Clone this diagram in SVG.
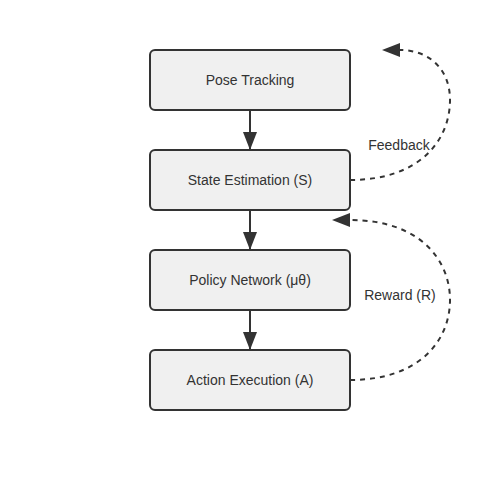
<svg xmlns="http://www.w3.org/2000/svg" width="500" height="500" viewBox="0 0 500 500">
<style>
.node rect{fill:#f0f0f0;stroke:#333;stroke-width:2}
text{font-family:"Liberation Sans",Arial,sans-serif;font-size:14px;fill:#333;text-anchor:middle;dominant-baseline:central}
.edge{stroke:#333;stroke-width:2;fill:none}
.dash{stroke-dasharray:5,5}
</style>
<defs>
<marker id="arr" viewBox="0 0 18 14" refX="18" refY="7" markerWidth="18" markerHeight="14" markerUnits="userSpaceOnUse" orient="auto">
<path d="M0,0 L18,7 L0,14 Z" fill="#333"/>
</marker>
<marker id="arrL" viewBox="0 0 18 14" refX="18" refY="7" markerWidth="18" markerHeight="14" markerUnits="userSpaceOnUse" orient="0">
<path d="M18,0 L0,7 L18,14 Z" fill="#333"/>
</marker>
</defs>
<rect width="500" height="500" fill="#fff"/>
<g id="connectors">
<path class="edge" d="M250,110 V150" marker-end="url(#arr)"/>
<path class="edge" d="M250,210 V250" marker-end="url(#arr)"/>
<path class="edge" d="M250,310 V350" marker-end="url(#arr)"/>
<path class="edge dash" d="M350,180 C420,180 450,140 450,100 C450,70 430,50 400,50" marker-end="url(#arrL)"/>
<path class="edge dash" d="M350,380 C420,380 450,340 450,300 C450,260 420,220 350,220" marker-end="url(#arrL)"/>
<text x="399" y="145">Feedback</text>
<text x="400" y="295">Reward (R)</text>
</g>
<g id="pose" class="node"><rect x="150" y="50" width="200" height="60" rx="5"/><text x="250" y="80">Pose Tracking</text></g>
<g id="state" class="node"><rect x="150" y="150" width="200" height="60" rx="5"/><text x="250" y="180">State Estimation (S)</text></g>
<g id="policy" class="node"><rect x="150" y="250" width="200" height="60" rx="5"/><text x="250" y="280">Policy Network (μθ)</text></g>
<g id="action" class="node"><rect x="150" y="350" width="200" height="60" rx="5"/><text x="250" y="380">Action Execution (A)</text></g>
</svg>
